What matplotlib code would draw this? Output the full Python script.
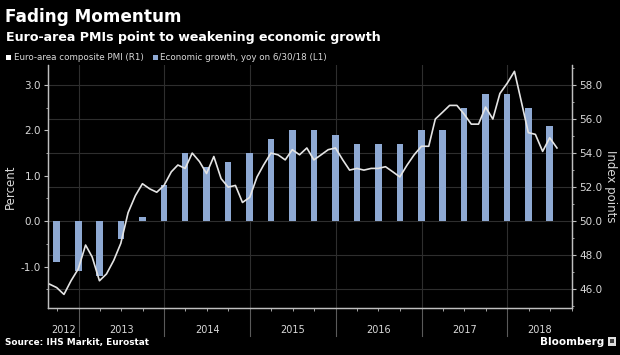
import matplotlib
matplotlib.use("Agg")
import matplotlib.pyplot as plt
import matplotlib.dates as mdates
from matplotlib.patches import Rectangle
import pandas as pd
import numpy as np

# ---------------- data ----------------
gdp_quarters = ["2012Q3", "2012Q4", "2013Q1", "2013Q2", "2013Q3", "2013Q4",
                "2014Q1", "2014Q2", "2014Q3", "2014Q4", "2015Q1", "2015Q2",
                "2015Q3", "2015Q4", "2016Q1", "2016Q2", "2016Q3", "2016Q4",
                "2017Q1", "2017Q2", "2017Q3", "2017Q4", "2018Q1", "2018Q2"]
gdp_growth = [-0.9, -1.1, -1.2, -0.4, 0.1, 0.8,
              1.5, 1.2, 1.3, 1.5, 1.8, 2.0,
              2.0, 1.9, 1.7, 1.7, 1.7, 2.0,
              2.0, 2.5, 2.8, 2.8, 2.5, 2.1]

pmi_start = "2012-08"
pmi_end = "2018-07"
pmi_values = [46.3, 46.1, 45.7, 46.5, 47.2,
              48.6, 47.9, 46.5, 46.9, 47.7, 48.7, 50.5, 51.5, 52.2, 51.9, 51.7, 52.1,
              52.9, 53.3, 53.1, 54.0, 53.5, 52.8, 53.8, 52.5, 52.0, 52.1, 51.1, 51.4,
              52.6, 53.3, 54.0, 53.9, 53.6, 54.2, 53.9, 54.3, 53.6, 53.9, 54.2, 54.3,
              53.6, 53.0, 53.1, 53.0, 53.1, 53.1, 53.2, 52.9, 52.6, 53.3, 53.9, 54.4,
              54.4, 56.0, 56.4, 56.8, 56.8, 56.3, 55.7, 55.7, 56.7, 56.0, 57.5, 58.1,
              58.8, 57.1, 55.2, 55.1, 54.1, 54.9, 54.3]

year_labels = ["2012", "2013", "2014", "2015", "2016", "2017", "2018"]
left_ticks = [-1.0, 0.0, 1.0, 2.0, 3.0]
right_ticks = [46.0, 48.0, 50.0, 52.0, 54.0, 56.0, 58.0]

# ---------------- styling ----------------
BG = "#000000"
FG = "#d9d9d9"
GRID = "#2e2e2e"
BAR = "#8ea9d3"
LINE = "#e4e4e4"

q_dates = pd.PeriodIndex(gdp_quarters, freq="Q").to_timestamp(how="end").normalize()
m_dates = pd.period_range(pmi_start, pmi_end, freq="M").to_timestamp(how="end").normalize()

fig = plt.figure(figsize=(6.2, 3.55), dpi=100, facecolor=BG)
ax = fig.add_axes([48 / 620, 1 - 308 / 355, (572 - 48) / 620, (308 - 65) / 355])
ax.set_facecolor(BG)

x_left = pd.Timestamp("2012-08-24")
x_right = pd.Timestamp("2018-10-03")

# relation between axes: 50 -> 0 pct, 58 -> 3 pct
scale = 3.0 / 8.0
ylo, yhi = -1.912, 3.44
ax.set_ylim(ylo, yhi)

# gridlines (aligned with right-axis ticks)
for v in right_ticks:
    ax.axhline((v - 50.0) * scale, color=GRID, lw=0.8, zorder=0)
year_bounds = [pd.Timestamp(f"{y}-01-01") for y in year_labels[1:]]
for d in year_bounds:
    ax.axvline(d, color=GRID, lw=0.8, zorder=0)

ax.bar(q_dates, gdp_growth, width=28, color=BAR, zorder=2)
ax.set_xlim(x_left, x_right)

ax2 = ax.twinx()
ax2.plot(m_dates, pmi_values, color=LINE, lw=1.2, zorder=3)
ax2.set_ylim(50 + ylo / scale, 50 + yhi / scale)
ax2.set_xlim(x_left, x_right)

# axes styling
for a in (ax, ax2):
    for s in a.spines.values():
        s.set_color("#bfbfbf")
        s.set_linewidth(0.9)
    a.spines["top"].set_visible(False)
ax.set_yticks(left_ticks)
ax.set_yticklabels([f"{t:.1f}" for t in left_ticks])
ax.set_yticks(np.arange(-1.5, 3.5, 0.5), minor=True)
ax2.set_yticks(right_ticks)
ax2.set_yticklabels([f"{t:.1f}" for t in right_ticks])
ax2.set_yticks(np.arange(45.0, 59.5, 1.0), minor=True)
ax.tick_params(axis="y", colors="#bfbfbf", labelcolor=FG, labelsize=7.5, length=3, width=0.8, pad=2)
ax.tick_params(axis="y", which="minor", colors="#bfbfbf", length=1.5, width=0.6)
ax2.tick_params(axis="y", colors="#bfbfbf", labelcolor=FG, labelsize=7.5, length=3, width=0.8, pad=2)
ax2.tick_params(axis="y", which="minor", colors="#bfbfbf", length=1.5, width=0.6)

# x axis: quarter ticks, year labels centered in visible segments
ax.xaxis.set_major_locator(mdates.MonthLocator(bymonth=[1, 4, 7, 10]))
ax.xaxis.set_major_formatter(plt.NullFormatter())
ax.tick_params(axis="x", colors="#bfbfbf", length=2.5, width=0.6)
ax2.tick_params(axis="x", length=0)

ax.set_ylabel("Percent", color=FG, fontsize=8.5, labelpad=3)
ax2.set_ylabel("Index points", color=FG, fontsize=8.5, rotation=270, labelpad=11)

trans = ax.get_xaxis_transform()
edges = [x_left] + year_bounds + [x_right]
for i, lab in enumerate(year_labels):
    mid = edges[i] + (edges[i + 1] - edges[i]) / 2
    ax.text(mid, -0.09, lab, transform=trans, color=FG, fontsize=7,
            ha="center", va="center", clip_on=False)
for d in year_bounds:
    ax.plot([d, d], [0, -0.115], transform=trans, color="#5a5a5a", lw=0.8, clip_on=False)

# titles & legend
fig.text(5 / 620, 1 - 17 / 355, "Fading Momentum", color="white", fontsize=12.2,
         fontweight="bold", va="center", ha="left")
fig.text(6 / 620, 1 - 37 / 355, "Euro-area PMIs point to weakening economic growth",
         color="white", fontsize=9.1, fontweight="bold", va="center", ha="left")
fig.patches.append(Rectangle((6 / 620, 1 - 60 / 355), 5 / 620, 5 / 355,
                             transform=fig.transFigure, facecolor="white", edgecolor="none"))
fig.text(14 / 620, 1 - 57.5 / 355, "Euro-area composite PMI (R1)", color=FG,
         fontsize=6.3, va="center", ha="left")
fig.patches.append(Rectangle((153 / 620, 1 - 60 / 355), 5 / 620, 5 / 355,
                             transform=fig.transFigure, facecolor=BAR, edgecolor="none"))
fig.text(160 / 620, 1 - 57.5 / 355, "Economic growth, yoy on 6/30/18 (L1)", color=FG,
         fontsize=6.3, va="center", ha="left")

# footer
fig.text(5 / 620, 1 - 342 / 355, "Source: IHS Markit, Eurostat", color="white",
         fontsize=6.4, fontweight="bold", va="center", ha="left")
fig.text(604 / 620, 1 - 342 / 355, "Bloomberg", color="white", fontsize=7.5,
         fontweight="bold", va="center", ha="right")
fig.patches.append(Rectangle((608 / 620, 1 - 346 / 355), 8 / 620, 9 / 355,
                             transform=fig.transFigure, facecolor="#e0e0e0", edgecolor="none"))
fig.patches.append(Rectangle((610 / 620, 1 - 343 / 355), 4 / 620, 4 / 355,
                             transform=fig.transFigure, facecolor="#404040", edgecolor="none"))

fig.savefig("out.png", dpi=100, facecolor=BG)
